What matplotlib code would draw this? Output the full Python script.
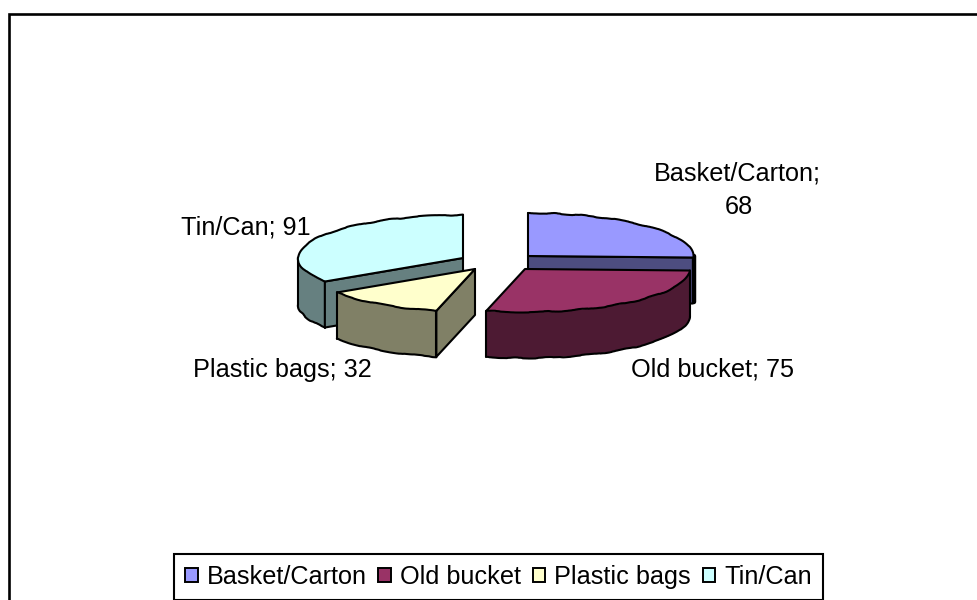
import numpy as np
import matplotlib
matplotlib.use("Agg")
import matplotlib.pyplot as plt
from matplotlib.patches import Polygon, Patch, Rectangle

plt.rcParams['font.family'] = ['Liberation Sans', 'DejaVu Sans']

categories = ['Basket/Carton', 'Old bucket', 'Plastic bags', 'Tin/Can']
values = [68, 75, 32, 91]
top_colors = ['#9999FF', '#993366', '#FFFFCC', '#CCFFFF']
side_colors = ['#4D4D80', '#4D1A33', '#808066', '#668080']
# apex of each exploded slice, in picture pixels
apex_x = [528, 525, 475, 463]
apex_y = [256, 269, 269, 258]

RX, RY, DEPTH = 165, 43, 46
LW = 1.5

fig = plt.figure(figsize=(9.77, 6.0), dpi=100)
ax = fig.add_axes([0, 0, 1, 1])
ax.set_xlim(0, 977)
ax.set_ylim(600, 0)
ax.axis('off')

# the frame runs off the right and bottom of the picture
ax.add_patch(Rectangle((9, 14), 1000, 700, facecolor='white', edgecolor='black', linewidth=1.9, zorder=0))

# angles are clockwise from 12 o'clock
edges = np.concatenate([[0], np.cumsum(values)]) / sum(values) * 2 * np.pi

# painter's order: every new piece goes on top of the last one
depth_order = [1]


def next_z():
    depth_order[0] += 1
    return depth_order[0]


def arc(cx, cy, a0, a1):
    t = np.linspace(a0, a1, 60)
    return np.column_stack([cx + RX * np.sin(t), cy - RY * np.cos(t)])


def rim_line(points, lw=LW):
    # the rims in the original are slightly scalloped
    line, = ax.plot(points[:, 0], points[:, 1], color='black', linewidth=lw,
                    solid_capstyle='round', zorder=next_z())
    line.set_sketch_params(scale=0.55, length=50, randomness=6)


def straight(points, lw=LW):
    ax.plot(points[:, 0], points[:, 1], color='black', linewidth=lw,
            solid_capstyle='round', solid_joinstyle='round', zorder=next_z())


def fill(points, color):
    ax.add_patch(Polygon(points, closed=True, facecolor=color, edgecolor='none', zorder=next_z()))


def cut_face(p, q, color):
    fill(np.array([p, q, q + [0, DEPTH], p + [0, DEPTH]]), color)
    straight(np.array([p, q, q + [0, DEPTH], p + [0, DEPTH], p]))


def draw_slice(i):
    cx, cy = apex_x[i], apex_y[i]
    a0, a1 = edges[i], edges[i + 1]
    apex = np.array([cx, cy], dtype=float)

    # outer wall only where the rim faces the viewer
    f0, f1 = max(a0, np.pi / 2), min(a1, 3 * np.pi / 2)
    if f1 > f0:
        rim = arc(cx, cy, f0, f1)
        low = rim[::-1] + [0, DEPTH]
        if i == 0:
            # Basket/Carton only shows a black sliver at its right end
            straight(np.array([rim[0] + [1, 0], rim[0] + [1, DEPTH]]), lw=3.2)
        else:
            fill(np.vstack([rim, low]), side_colors[i])
            rim_line(low)
            straight(np.array([rim[0], low[-1]]))
            straight(np.array([rim[-1], low[0]]))

    # straight cut faces that look towards the viewer
    if np.sin(a0) < 0:
        cut_face(apex, arc(cx, cy, a0, a0)[0], side_colors[i])
    if np.sin(a1) > 0:
        cut_face(apex, arc(cx, cy, a1, a1)[0], side_colors[i])

    # top face
    rim = arc(cx, cy, a0, a1)
    fill(np.vstack([apex, rim]), top_colors[i])
    straight(np.array([rim[-1], apex, rim[0]]))
    rim_line(rim)


for i in [3, 0, 1, 2]:
    draw_slice(i)

ax.text(737, 174, 'Basket/Carton;', ha='center', va='center', fontsize=18.2, zorder=100)
ax.text(739, 207, '68', ha='center', va='center', fontsize=18.2, zorder=100)
ax.text(631, 370, 'Old bucket; 75', ha='left', va='center', fontsize=18.2, zorder=100)
ax.text(193, 370, 'Plastic bags; 32', ha='left', va='center', fontsize=18.2, zorder=100)
ax.text(181, 227, 'Tin/Can; 91', ha='left', va='center', fontsize=18.2, zorder=100)

handles = [Patch(facecolor=c, edgecolor='black', linewidth=1.4) for c in top_colors]
leg = ax.legend(handles, categories, ncol=4, loc='center', bbox_to_anchor=(498.5 / 977, 1 - 577 / 600),
                fontsize=18.2, frameon=True, fancybox=False, edgecolor='black', framealpha=1,
                handlelength=0.5, handleheight=0.5, handletextpad=0.36, columnspacing=0.46,
                borderpad=0.42, borderaxespad=0)
leg.get_frame().set_linewidth(1.5)
leg.set_zorder(100)

fig.savefig('out.png', dpi=100)
